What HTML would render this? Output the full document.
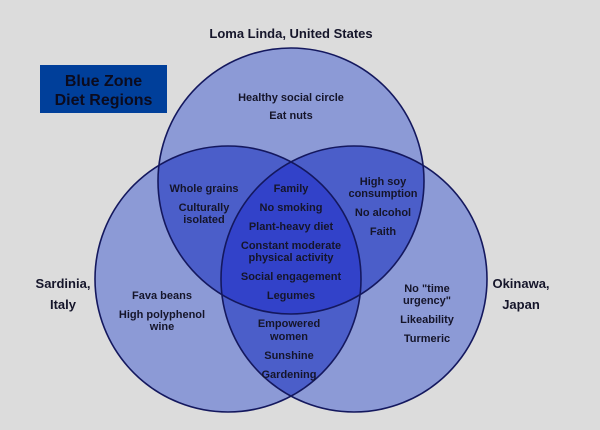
<!DOCTYPE html>
<html><head><meta charset="utf-8"><style>
html,body{margin:0;padding:0;background:#dcdcdc;}
svg{display:block;}
text{font-family:"Liberation Sans",sans-serif;font-weight:bold;fill:#15152a;text-anchor:middle;}
.s{font-size:11px;}
.l{font-size:13px;}
</style></head><body>
<svg width="600" height="430" viewBox="0 0 600 430">
<defs>
<clipPath id="cT"><circle cx="291" cy="181" r="133"/></clipPath>
<clipPath id="cL"><circle cx="228" cy="279" r="133"/></clipPath>
<clipPath id="cR"><circle cx="354" cy="279" r="133"/></clipPath>
</defs>
<rect width="600" height="430" fill="#dcdcdc"/>
<circle cx="291" cy="181" r="133" fill="#8c9ad6"/>
<circle cx="228" cy="279" r="133" fill="#8c9ad6"/>
<circle cx="354" cy="279" r="133" fill="#8c9ad6"/>
<circle cx="228" cy="279" r="133" fill="#4b5ec9" clip-path="url(#cT)"/>
<circle cx="354" cy="279" r="133" fill="#4b5ec9" clip-path="url(#cT)"/>
<circle cx="354" cy="279" r="133" fill="#4b5ec9" clip-path="url(#cL)"/>
<g clip-path="url(#cT)"><circle cx="354" cy="279" r="133" fill="#3242c9" clip-path="url(#cL)"/></g>
<g fill="none" stroke="#14185e" stroke-width="1.6">
<circle cx="291" cy="181" r="133"/>
<circle cx="228" cy="279" r="133"/>
<circle cx="354" cy="279" r="133"/>
</g>
<rect x="40" y="65" width="127" height="48" fill="#003f9a"/>
<text x="103.5" y="86" style="font-size:16px;fill:#0b0b1e">Blue Zone</text>
<text x="103.5" y="105" style="font-size:16px;fill:#0b0b1e">Diet Regions</text>

<text class="l" x="291" y="38">Loma Linda, United States</text>
<text class="l" x="63" y="288">Sardinia,</text>
<text class="l" x="63" y="309">Italy</text>
<text class="l" x="521" y="288">Okinawa,</text>
<text class="l" x="521" y="309">Japan</text>

<text class="s" x="291" y="101">Healthy social circle</text>
<text class="s" x="291" y="119">Eat nuts</text>

<text class="s" x="204" y="192">Whole grains</text>
<text class="s" x="204" y="211">Culturally</text>
<text class="s" x="204" y="223">isolated</text>

<text class="s" x="291" y="192">Family</text>
<text class="s" x="291" y="211">No smoking</text>
<text class="s" x="291" y="230">Plant-heavy diet</text>
<text class="s" x="291" y="249">Constant moderate</text>
<text class="s" x="291" y="261">physical activity</text>
<text class="s" x="291" y="280">Social engagement</text>
<text class="s" x="291" y="299">Legumes</text>

<text class="s" x="383" y="185">High soy</text>
<text class="s" x="383" y="197">consumption</text>
<text class="s" x="383" y="216">No alcohol</text>
<text class="s" x="383" y="235">Faith</text>

<text class="s" x="162" y="299">Fava beans</text>
<text class="s" x="162" y="318">High polyphenol</text>
<text class="s" x="162" y="330">wine</text>

<text class="s" x="289" y="327">Empowered</text>
<text class="s" x="289" y="340">women</text>
<text class="s" x="289" y="359">Sunshine</text>
<text class="s" x="289" y="378">Gardening</text>

<text class="s" x="427" y="292">No "time</text>
<text class="s" x="427" y="304">urgency"</text>
<text class="s" x="427" y="323">Likeability</text>
<text class="s" x="427" y="342">Turmeric</text>
</svg>
</body></html>
